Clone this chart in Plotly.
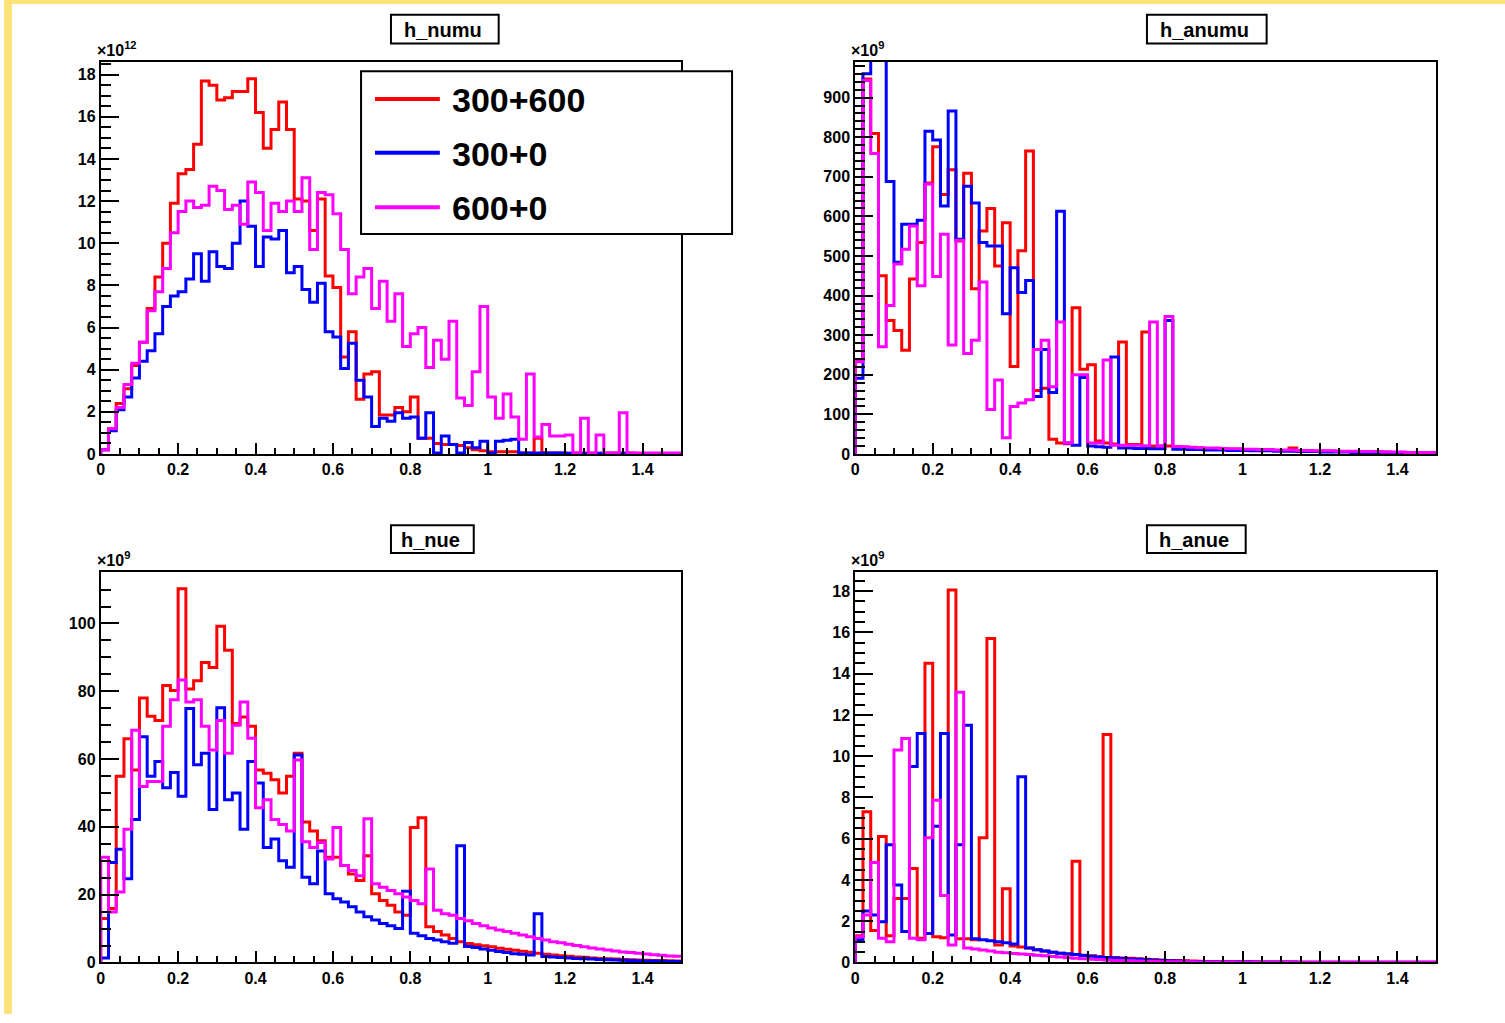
import plotly.graph_objects as go

W, H = 1505, 1023
N_BINS = 75
BIN_W = 0.02
edges = [round(i * BIN_W, 2) for i in range(N_BINS + 1)]

series_names = ["300+600", "300+0", "600+0"]
series_colors = ["#ff0000", "#0000ff", "#ff00ff"]

# ---- h_numu (x1e12) ----
numu_red = [0.2, 1.2, 2.4, 3.1, 4.2, 5.3, 6.9, 8.4, 10.0, 11.9,
            13.3, 13.5, 14.7, 17.7, 17.5, 16.8, 16.9, 17.2, 17.2, 17.8,
            16.2, 14.5, 15.4, 16.7, 15.4, 12.1, 12.0, 10.6, 12.1, 8.45,
            7.9, 4.6, 5.8, 2.6, 3.8, 3.9, 1.85, 1.85, 2.2, 2.0,
            2.7, 0.75, 0.75, 0.5, 0.45, 0.45, 0.4, 0.3, 0.2, 0.15,
            0.1, 0.1, 0.1, 0.1, 0.05, 0.05, 0.75, 0.05, 0.05, 0.05,
            0.04, 0.04, 0.04, 0.04, 0.03, 0.03, 0.03, 0.03, 0.03, 0.02,
            0.02, 0.02, 0.02, 0.02, 0.02]
numu_blue = [0.2, 1.1, 2.1, 2.7, 3.6, 4.4, 4.9, 5.7, 7.0, 7.5,
             7.7, 8.3, 9.5, 8.2, 9.6, 8.9, 8.8, 10.0, 12.0, 10.8,
             8.9, 10.3, 10.2, 10.6, 8.6, 8.9, 7.8, 7.2, 8.1, 5.8,
             5.55, 4.05, 5.25, 3.5, 2.7, 1.3, 1.7, 1.55, 1.95, 1.7,
             1.75, 0.75, 1.95, 0.05, 0.85, 0.45, 0.05, 0.55, 0.3, 0.6,
             0.05, 0.6, 0.65, 0.7, 0.05, 0.05, 0.05, 0.05, 0.05, 0.05,
             0.04, 0.04, 0.04, 0.04, 0.03, 0.03, 0.03, 0.03, 0.03, 0.02,
             0.02, 0.02, 0.02, 0.02, 0.02]
numu_mag = [0.2, 1.2, 2.2, 3.3, 4.3, 5.3, 6.8, 7.7, 8.8, 10.5,
            11.5, 12.0, 11.7, 11.8, 12.7, 12.5, 11.6, 11.8, 10.9, 12.9,
            12.4, 10.6, 11.9, 11.5, 12.0, 11.5, 13.1, 9.7, 12.4, 12.3,
            11.4, 9.7, 7.6, 8.4, 8.8, 6.9, 8.2, 6.3, 7.6, 5.1,
            5.7, 6.0, 4.1, 5.4, 4.5, 6.3, 2.65, 2.3, 3.9, 7.0,
            2.7, 1.7, 2.85, 1.75, 0.7, 3.8, 0.8, 1.4, 0.85, 0.85,
            0.9, 0.05, 1.7, 0.05, 0.9, 0.05, 0.05, 1.95, 0.05, 0.05,
            0.05, 0.05, 0.05, 0.05, 0.05]

# ---- h_anumu (x1e9) ----
anumu_red = [237, 947, 809, 450, 337, 312, 262, 442, 534, 684,
             776, 655, 718, 538, 709, 417, 563, 620, 475, 584,
             221, 513, 765, 160, 166, 37, 28, 26, 369, 214,
             225, 33, 28, 25, 283, 24, 24, 308, 20, 20,
             20, 18, 17, 16, 15, 14, 14, 13, 12, 12,
             11, 11, 10, 10, 9, 9, 15, 8, 8, 7,
             7, 7, 6, 6, 6, 5, 5, 5, 5, 4,
             4, 4, 4, 3, 3]
anumu_blue = [191, 960, 1040, 1040, 688, 484, 580, 580, 590, 815,
              793, 626, 866, 542, 676, 634, 534, 525, 525, 354,
              470, 408, 438, 145, 264, 155, 613, 28, 22, 193,
              20, 18, 17, 245, 15, 15, 14, 14, 13, 13,
              337, 12, 12, 11, 11, 10, 10, 10, 9, 9,
              9, 8, 8, 8, 7, 7, 7, 6, 6, 6,
              5, 5, 5, 5, 4, 4, 4, 4, 3, 3,
              3, 3, 3, 2, 2]
anumu_mag = [233, 943, 759, 271, 375, 480, 517, 576, 425, 682,
             448, 555, 275, 540, 254, 287, 434, 112, 187, 41,
             120, 129, 137, 264, 287, 170, 333, 28, 200, 200,
             28, 28, 237, 22, 22, 22, 22, 21, 333, 20,
             347, 19, 18, 17, 16, 15, 15, 14, 13, 13,
             12, 12, 11, 11, 10, 10, 10, 9, 9, 8,
             8, 8, 7, 7, 7, 6, 6, 6, 5, 5,
             5, 4, 4, 4, 3]

# ---- h_nue (x1e9) ----
nue_red = [13.0, 15.9, 54.9, 66.0, 56.8, 78.0, 72.6, 71.4, 81.7, 80.2,
           110.2, 80.7, 83.1, 88.5, 87.0, 99.2, 92.1, 70.5, 72.4, 69.7,
           56.8, 55.8, 53.9, 50.0, 54.9, 61.7, 41.4, 38.8, 35.9, 31.0,
           31.0, 28.6, 26.1, 24.2, 31.5, 20.3, 18.3, 16.9, 14.9, 13.9,
           39.8, 42.7, 10.5, 9.1, 8.1, 7.1, 6.1, 5.6, 5.2, 4.9,
           4.6, 4.2, 3.9, 3.6, 3.3, 3.0, 2.7, 2.4, 2.2, 2.0,
           1.8, 1.6, 1.5, 1.3, 1.2, 1.1, 1.0, 0.9, 0.8, 0.7,
           0.65, 0.6, 0.55, 0.5, 0.45]
nue_blue = [1.3, 29.5, 33.4, 24.7, 42.2, 66.6, 54.9, 59.3, 51.5, 56.0,
            49.0, 74.9, 58.3, 61.7, 45.1, 75.1, 48.0, 50.0, 39.3, 59.3,
            52.9, 33.9, 36.4, 30.0, 28.1, 61.2, 25.1, 23.2, 32.9, 20.3,
            18.8, 17.8, 16.4, 14.9, 13.5, 12.5, 11.5, 10.8, 10.0, 21.0,
            8.6, 7.9, 7.1, 6.6, 6.1, 5.7, 34.4, 4.7, 4.4, 4.0,
            3.6, 3.2, 2.9, 2.6, 2.4, 2.2, 14.4, 1.75, 1.6, 1.45,
            1.3, 1.2, 1.1, 1.0, 0.9, 0.8, 0.7, 0.65, 0.6, 0.5,
            0.45, 0.4, 0.35, 0.3, 0.3]
nue_mag = [31.0, 14.9, 20.8, 39.3, 68.5, 51.9, 53.4, 53.4, 69.7, 77.5,
           83.3, 76.8, 77.5, 69.7, 62.7, 71.4, 61.7, 70.0, 76.8, 66.1,
           45.6, 48.0, 42.2, 40.7, 38.8, 59.7, 35.6, 33.9, 35.4, 30.5,
           39.8, 28.6, 27.1, 25.6, 42.4, 23.2, 22.2, 21.2, 20.3, 19.3,
           18.3, 17.3, 27.6, 15.4, 14.4, 13.9, 13.0, 12.3, 11.5, 10.8,
           10.2, 9.6, 9.1, 8.6, 8.1, 7.6, 7.1, 6.6, 6.1, 5.8,
           5.4, 5.0, 4.6, 4.3, 4.0, 3.7, 3.4, 3.1, 2.9, 2.7,
           2.5, 2.3, 2.1, 1.9, 1.8]

# ---- h_anue (x1e9) ----
anue_red = [1.3, 7.3, 1.55, 6.1, 1.3, 3.1, 3.1, 4.56, 1.17, 14.5,
            1.25, 1.2, 18.05, 1.15, 1.15, 1.1, 6.05, 15.7, 0.85, 3.57,
            0.8, 0.75, 0.7, 0.62, 0.55, 0.5, 0.45, 0.4, 4.9, 0.35,
            0.32, 0.28, 11.05, 0.24, 0.22, 0.2, 0.18, 0.16, 0.14, 0.12,
            0.1, 0.09, 0.08, 0.07, 0.06, 0.05, 0.05, 0.04, 0.04, 0.03,
            0.03, 0.03, 0.02, 0.02, 0.02, 0.02, 0.02, 0.01, 0.01, 0.01,
            0.01, 0.01, 0.01, 0.01, 0.01, 0.01, 0.01, 0.01, 0.01, 0.01,
            0.01, 0.01, 0.01, 0.01, 0.01]
anue_blue = [1.1, 2.5, 2.3, 1.97, 5.7, 3.76, 1.5, 9.5, 11.1, 1.4,
             6.6, 11.1, 1.33, 5.7, 11.5, 1.15, 1.1, 1.05, 1.0, 0.95,
             0.9, 9.0, 0.7, 0.62, 0.56, 0.5, 0.45, 0.42, 0.38, 0.34,
             0.3, 0.27, 0.24, 0.21, 0.19, 0.17, 0.15, 0.13, 0.11, 0.1,
             0.08, 0.07, 0.06, 0.05, 0.05, 0.04, 0.04, 0.03, 0.03, 0.03,
             0.03, 0.02, 0.02, 0.02, 0.02, 0.02, 0.02, 0.01, 0.01, 0.01,
             0.01, 0.01, 0.01, 0.01, 0.01, 0.01, 0.01, 0.01, 0.01, 0.01,
             0.01, 0.01, 0.01, 0.01, 0.01]
anue_mag = [1.25, 2.3, 4.85, 1.17, 1.0, 10.3, 10.85, 1.17, 1.1, 6.05,
            7.86, 3.25, 0.85, 13.1, 0.7, 0.65, 0.6, 0.55, 0.5, 0.47,
            0.44, 0.41, 0.38, 0.35, 0.32, 0.29, 0.26, 0.23, 0.2, 0.18,
            0.16, 0.14, 0.12, 0.1, 0.09, 0.08, 0.07, 0.06, 0.05, 0.04,
            0.04, 0.03, 0.03, 0.03, 0.02, 0.02, 0.02, 0.02, 0.02, 0.01,
            0.01, 0.01, 0.01, 0.01, 0.01, 0.01, 0.01, 0.01, 0.01, 0.01,
            0.01, 0.01, 0.01, 0.01, 0.01, 0.01, 0.01, 0.01, 0.01, 0.01,
            0.01, 0.01, 0.01, 0.01, 0.01]

x_tick_vals = [0, 0.2, 0.4, 0.6, 0.8, 1.0, 1.2, 1.4]
x_tick_text = ["0", "0.2", "0.4", "0.6", "0.8", "1", "1.2", "1.4"]

panels = [
    dict(title="h_numu", exp="12", data=[numu_red, numu_blue, numu_mag],
         ymax=18.6, dtick=2, minor=0.5),
    dict(title="h_anumu", exp="9", data=[anumu_red, anumu_blue, anumu_mag],
         ymax=990, dtick=100, minor=20),
    dict(title="h_nue", exp="9", data=[nue_red, nue_blue, nue_mag],
         ymax=115.2, dtick=20, minor=5),
    dict(title="h_anue", exp="9", data=[anue_red, anue_blue, anue_mag],
         ymax=18.93, dtick=2, minor=0.5),
]

# pixel geometry of the four frames (x0, x1, ytop, ybottom)
frames_px = [(97, 679, 62.5, 458), (853.5, 1436, 62.5, 458),
             (97, 679, 577, 971), (853.5, 1436, 577, 971)]
title_boxes_px = [(388, 496, 15, 44), (1146, 1266, 15, 44),
                  (388, 471, 530, 558), (1146, 1245, 530, 558)]


def px2x(px):
    return px / W


def px2y(py):
    return 1 - py / H


FONT = "Liberation Sans, Arial, Helvetica, sans-serif"

fig = go.Figure()
layout = dict(width=W, height=H, margin=dict(l=0, r=0, t=0, b=0),
              paper_bgcolor="white", plot_bgcolor="white",
              showlegend=False, autosize=False)
shapes = []
annotations = []

for i, p in enumerate(panels):
    ax = "" if i == 0 else str(i + 1)
    xa, ya = "x" + ax, "y" + ax
    x0, x1, yt, yb = frames_px[i]
    for vals, name, col in zip(p["data"], series_names, series_colors):
        fig.add_trace(go.Scatter(
            x=[edges[0]] + edges,
            y=[0] + vals + [vals[-1]],
            mode="lines", line=dict(shape="hv", color=col, width=3),
            name=name, xaxis=xa, yaxis=ya, hoverinfo="skip"))
    common = dict(showline=True, mirror=True, linecolor="black", linewidth=2,
                  showgrid=False, zeroline=False, ticks="inside",
                  tickcolor="black", tickwidth=2,
                  tickfont=dict(family=FONT, size=16, color="black", weight="bold"))
    layout["xaxis" + ax] = dict(
        common, domain=[px2x(x0), px2x(x1)], anchor=ya, range=[0, 1.5],
        tickmode="array", tickvals=x_tick_vals, ticktext=x_tick_text,
        ticklen=11,
        minor=dict(tick0=0, dtick=0.05, ticks="inside", ticklen=6,
                   tickwidth=2, tickcolor="black"))
    layout["yaxis" + ax] = dict(
        common, domain=[px2y(yb), px2y(yt)], anchor=xa, range=[0, p["ymax"]],
        tick0=0, dtick=p["dtick"], ticklen=18,
        minor=dict(tick0=0, dtick=p["minor"], ticks="inside", ticklen=10,
                   tickwidth=2, tickcolor="black"))
    # exponent label
    annotations.append(dict(
        xref="paper", yref="paper", x=px2x(x0 - 6), y=px2y(yt - 1),
        xanchor="left", yanchor="bottom", showarrow=False,
        text="\u00d710<sup>" + p["exp"] + "</sup>",
        font=dict(family=FONT, size=16, color="black", weight="bold")))
    # title box
    bx0, bx1, by0, by1 = title_boxes_px[i]
    shapes.append(dict(type="rect", xref="paper", yref="paper",
                       x0=px2x(bx0), x1=px2x(bx1), y0=px2y(by1), y1=px2y(by0),
                       line=dict(color="black", width=2), fillcolor="white",
                       layer="above"))
    annotations.append(dict(
        xref="paper", yref="paper", x=px2x((bx0 + bx1) / 2 - 2),
        y=px2y((by0 + by1) / 2 + 1), xanchor="center", yanchor="middle",
        showarrow=False, text=p["title"],
        font=dict(family=FONT, size=20, color="black", weight="bold")))

# legend (drawn as in ROOT's TLegend)
shapes.append(dict(type="rect", xref="paper", yref="paper",
                   x0=px2x(358), x1=px2x(730), y0=px2y(236), y1=px2y(72),
                   line=dict(color="black", width=2), fillcolor="white",
                   layer="above"))
legend_rows_px = [100, 154, 209]
for name, col, ry in zip(series_names, series_colors, legend_rows_px):
    shapes.append(dict(type="line", xref="paper", yref="paper",
                       x0=px2x(372), x1=px2x(437), y0=px2y(ry), y1=px2y(ry),
                       line=dict(color=col, width=4), layer="above"))
    annotations.append(dict(
        xref="paper", yref="paper", x=px2x(447), y=px2y(ry + 1),
        xanchor="left", yanchor="middle", showarrow=False, text=name,
        font=dict(family=FONT, size=34, color="black", weight="bold")))

# yellow canvas edge
shapes.append(dict(type="rect", xref="paper", yref="paper",
                   x0=0, x1=px2x(8), y0=0, y1=1, line=dict(width=0),
                   fillcolor="#fde27c", layer="below"))
shapes.append(dict(type="rect", xref="paper", yref="paper",
                   x0=0, x1=1, y0=px2y(4), y1=1, line=dict(width=0),
                   fillcolor="#fde27c", layer="below"))

layout["shapes"] = shapes
layout["annotations"] = annotations
fig.update_layout(**layout)
fig.write_html("out.html")
